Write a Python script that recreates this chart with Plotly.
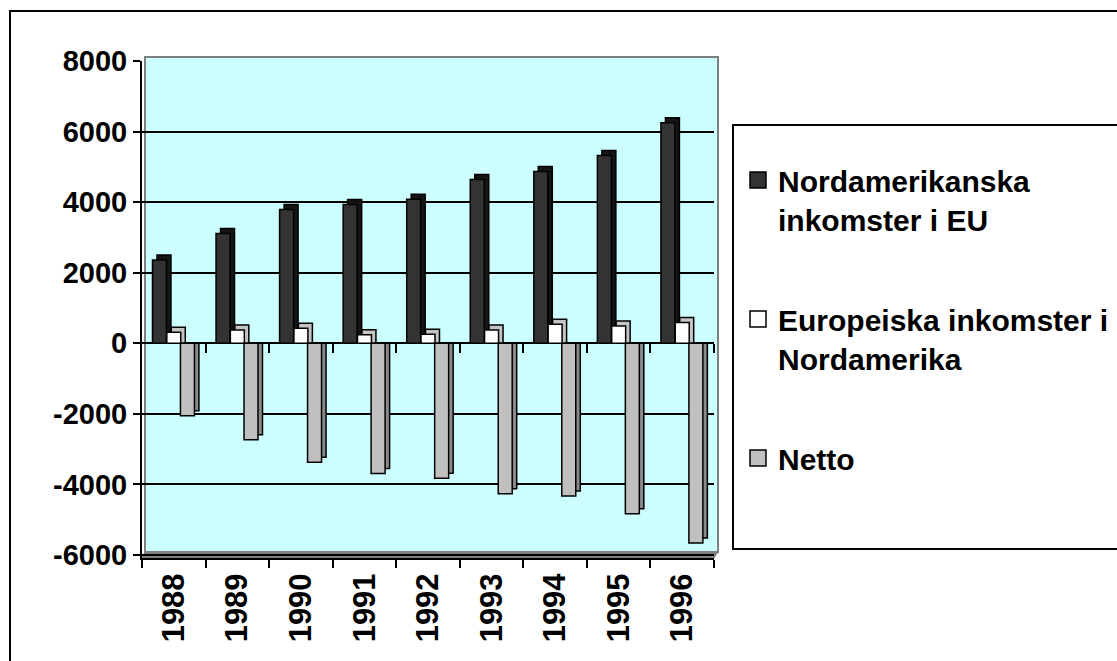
import plotly.graph_objects as go

# ---------------- data ----------------
years = ["1988", "1989", "1990", "1991", "1992", "1993", "1994", "1995", "1996"]
na_income_eu = [2360, 3110, 3790, 3930, 4080, 4640, 4870, 5320, 6250]
eu_income_na = [310, 380, 430, 240, 255, 380, 540, 490, 590]
netto = [-2050, -2730, -3370, -3690, -3825, -4260, -4330, -4830, -5660]
series_names = ["Nordamerikanska<br>inkomster i EU",
                "Europeiska inkomster i<br>Nordamerika",
                "Netto"]
y_ticks = [-6000, -4000, -2000, 0, 2000, 4000, 6000, 8000]
y_tick_labels = [str(v) for v in y_ticks]

# ---------------- layout geometry ----------------
W, H = 1117, 661
ML, MR, MT, MB = 142, 403, 61, 103
PW, PH = W - ML - MR, H - MT - MB
Y_MIN, Y_MAX = -6084, 8000


def px_x(p):
    return (p - ML) / PW


def px_y(p):
    return (H - MB - p) / PH


cat_px = PW / len(years)
units_per_px = (Y_MAX - Y_MIN) / PH
DX = 4.5 / cat_px          # 3D depth, horizontal (category units)
DY = 5 * units_per_px       # 3D depth, vertical (data units)

FONT = "Liberation Sans, Arial, sans-serif"
front_colors = ["#333333", "#ffffff", "#c0c0c0"]
depth_colors = ["#151515", "#c4c4c4", "#8a8a8a"]
offsets = [-0.335, -0.11, 0.105]
BW = 0.22
series = [na_income_eu, eu_income_na, netto]

fig = go.Figure()

# depth faces (behind)
for vals, col, off in zip(series, depth_colors, offsets):
    fig.add_trace(go.Bar(
        x=years, y=[v + DY for v in vals], offset=off + DX, width=BW,
        marker=dict(color=col, line=dict(color="black", width=1.5)),
        showlegend=False, hoverinfo="skip"))

# front faces
for vals, col, off, name in zip(series, front_colors, offsets, series_names):
    fig.add_trace(go.Bar(
        x=years, y=vals, offset=off, width=BW, name=name,
        legendgroup=name,
        marker=dict(color=col, line=dict(color="black", width=1.5)),
        showlegend=False))

# legend entries
for col, name in zip(front_colors, series_names):
    fig.add_trace(go.Scatter(
        x=[None], y=[None], mode="markers", name=name, legendgroup=name,
        marker=dict(symbol="square", size=16, color=col,
                    line=dict(color="black", width=1.5))))

# carrier for the secondary (zero-line) category tick axis
fig.add_trace(go.Scatter(x=[None], y=[None], xaxis="x2", showlegend=False,
                         hoverinfo="skip", mode="markers"))

shapes = [
    # back wall
    dict(type="rect", xref="paper", yref="paper", layer="below",
         x0=px_x(145), x1=px_x(718), y0=px_y(552), y1=px_y(57),
         fillcolor="#ccffff", line=dict(color="#808080", width=2)),
    # floor strip
    dict(type="path", xref="paper", yref="paper", layer="below",
         path=f"M{px_x(142)},{px_y(558)} L{px_x(714)},{px_y(558)} "
              f"L{px_x(718)},{px_y(552)} L{px_x(145)},{px_y(552)} Z",
         fillcolor="#808080", line=dict(color="#808080", width=1)),
    # legend box
    dict(type="rect", xref="paper", yref="paper",
         x0=px_x(733), x1=px_x(1130), y0=px_y(549), y1=px_y(125),
         line=dict(color="black", width=2)),
    # outer chart frame
    dict(type="rect", xref="paper", yref="paper",
         x0=px_x(10), x1=px_x(1135), y0=px_y(680), y1=px_y(11),
         line=dict(color="black", width=2)),
]

n = len(years)
fig.update_layout(
    width=W, height=H,
    margin=dict(l=ML, r=MR, t=MT, b=MB, pad=0, autoexpand=False),
    paper_bgcolor="white",
    plot_bgcolor="rgba(0,0,0,0)",
    barmode="overlay",
    font=dict(family=FONT, color="black", weight="bold"),
    showlegend=True,
    legend=dict(x=px_x(738), xanchor="left", y=px_y(154), yanchor="top",
                font=dict(family=FONT, size=30, color="black", weight="bold"),
                bgcolor="rgba(0,0,0,0)", borderwidth=0,
                traceorder="grouped", tracegroupgap=58, valign="top"),
    shapes=shapes,
    xaxis=dict(type="category", range=[-0.5, n - 0.5],
               showline=True, linecolor="black", linewidth=2,
               ticks="outside", ticklen=8, tickwidth=2, tickcolor="black",
               tickson="boundaries", tickangle=-90, ticklabelstandoff=1,
               tickfont=dict(family=FONT, size=31, color="black", weight="bold"),
               showgrid=False, zeroline=False, fixedrange=True),
    xaxis2=dict(overlaying="x", anchor="free", position=px_y(343.3),
                range=[-0.5, n - 0.5],
                tickvals=[k - 0.5 for k in range(1, n + 1)],
                ticks="outside", ticklen=9, tickwidth=2, tickcolor="black",
                showticklabels=False, showline=False, showgrid=False,
                zeroline=False, fixedrange=True),
    yaxis=dict(range=[Y_MIN, Y_MAX], tickvals=y_ticks, ticktext=y_tick_labels,
               showline=True, linecolor="black", linewidth=2,
               ticks="outside", ticklen=7, tickwidth=2, tickcolor="black",
               tickfont=dict(family=FONT, size=29, color="black", weight="bold"),
               showgrid=True, gridcolor="black", gridwidth=2,
               zeroline=True, zerolinecolor="black", zerolinewidth=2,
               fixedrange=True),
)

fig.write_html(
    "out.html",
    config={"displayModeBar": False},
    post_script="document.body.style.margin='0';"
                "document.body.style.overflow='hidden';")
